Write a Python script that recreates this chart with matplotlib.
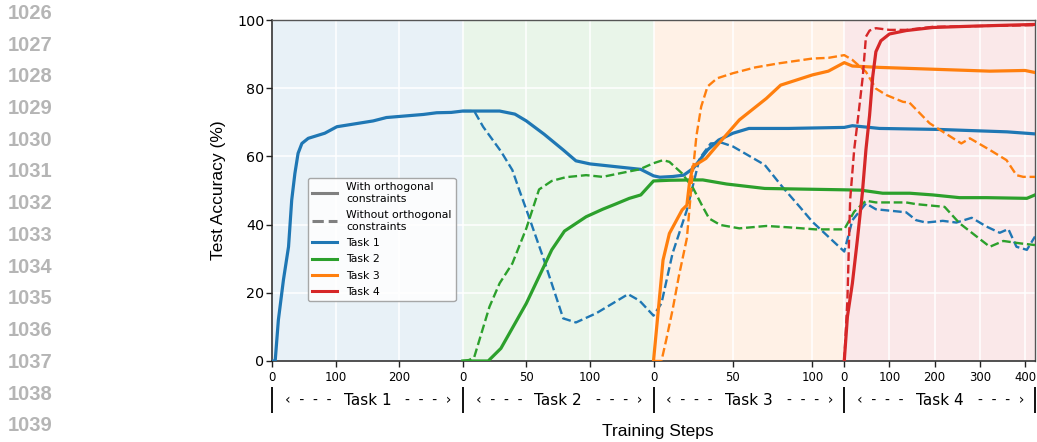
import matplotlib
matplotlib.use("Agg")
import matplotlib.pyplot as plt
import numpy as np
from matplotlib.lines import Line2D
from matplotlib.transforms import blended_transform_factory

# ---------------------------------------------------------------- data
TASK_NAMES = ["Task 1", "Task 2", "Task 3", "Task 4"]
TASK_COLORS = ["#1f77b4", "#2ca02c", "#ff7f0e", "#d62728"]
TASK_LENGTHS = [300, 150, 120, 422]          # training steps spent on each task
TASK_TICKS = [[0, 100, 200], [0, 50, 100], [0, 50, 100], [0, 100, 200, 300, 400]]

# Each curve: {training stage: (steps within that stage, accuracy %)}
task1_with = {
    0: ([0, 5, 10, 18, 26, 31, 36, 41, 47, 57, 83, 102, 159, 180, 238, 259, 282, 300],
        [0, 0, 12, 23.8, 33.5, 47.2, 55, 60.9, 63.8, 65.3, 66.8, 68.7, 70.4, 71.4, 72.3, 72.8, 72.9, 73.3]),
    1: ([0, 29, 41, 50, 64, 79, 89, 100, 120, 140, 150],
        [73.3, 73.3, 72.4, 70.4, 66.5, 61.9, 58.7, 57.8, 57, 56.2, 54.3]),
    2: ([0, 4, 12, 19, 25, 34, 41, 50, 60, 85, 120],
        [54.3, 53.9, 54.1, 54.5, 56.5, 61.9, 64.8, 66.8, 68.2, 68.2, 68.5]),
    3: ([0, 18, 78, 211, 360, 422],
        [68.5, 69, 68.2, 67.9, 67.2, 66.6]),
}
task1_without = {
    1: ([0, 9, 16, 30, 39, 44.5, 52, 63, 79, 89, 105, 130, 139, 150],
        [73.3, 73.3, 68.7, 61.5, 56, 50.1, 42.3, 30.6, 12.5, 11.3, 14, 19.6, 17.7, 13.3]),
    2: ([0, 5, 12, 21, 29, 36, 43, 50, 70, 81, 92, 100, 120],
        [13.3, 16.9, 31.6, 44.3, 59.4, 63.8, 64, 62.9, 57.5, 51.1, 45.2, 40.8, 32.1]),
    3: ([0, 18, 48, 70, 137, 159, 181, 218, 248, 282, 315, 344, 363, 381, 404, 422],
        [32.1, 41.3, 46.2, 44.5, 43.6, 41.3, 40.6, 41.1, 40.6, 42, 39.4, 37.6, 38.7, 33.5, 32.6, 36.5]),
}
task2_with = {
    1: ([0, 20, 30, 50, 70, 80, 97, 110, 120, 131, 140, 150],
        [0, 0, 3.7, 16.9, 32.6, 38.1, 42.3, 44.5, 46, 47.7, 48.7, 52.8]),
    2: ([0, 10, 25, 31, 46, 70, 120],
        [52.8, 53.0, 53.1, 53.1, 51.9, 50.6, 50.2]),
    3: ([0, 37, 85, 145, 196, 255, 315, 404, 422],
        [50.2, 50.1, 49.2, 49.2, 48.7, 47.9, 47.9, 47.7, 48.7]),
}
task2_without = {
    1: ([0, 5, 9, 21, 29, 39, 50, 60, 70, 81, 97, 110, 123, 139, 150],
        [0, 0.3, 1.1, 15.9, 22.8, 28.6, 38.9, 50.3, 52.8, 53.9, 54.5, 54, 55, 56.2, 58]),
    2: ([0, 6, 10, 18, 25, 31, 35, 42, 54, 71, 85, 102, 120],
        [58, 58.9, 58.4, 55, 50.6, 45.2, 41.8, 39.9, 38.9, 39.6, 39.2, 38.6, 38.6]),
    3: ([0, 22, 48, 70, 137, 159, 222, 255, 322, 352, 389, 422],
        [38.6, 43.8, 47, 46.5, 46.5, 46, 45.2, 40.4, 33.5, 35.2, 34.5, 34]),
}
task3_with = {
    2: ([0, 6, 10, 18, 21, 22.6, 24.7, 33, 39.4, 54, 71, 80, 100, 110, 120],
        [0, 29.6, 37.4, 44.3, 45.7, 52.1, 57, 59.4, 62.9, 70.7, 77, 80.9, 83.9, 85, 87.5]),
    3: ([0, 18, 78, 211, 322, 400, 422],
        [87.5, 86.5, 86.1, 85.5, 85, 85.2, 84.6]),
}
task3_without = {
    2: ([0, 5, 8, 12, 16, 21, 24, 27, 30, 34, 40, 50, 64, 79, 100, 110, 120],
        [0, 0, 6.2, 15, 25, 36, 52, 66, 74.6, 80.5, 82.9, 84.4, 86.1, 87.3, 88.7, 88.9, 89.7]),
    3: ([0, 18, 48, 70, 93, 130, 144, 189, 241, 259, 278, 322, 359, 381, 396, 422],
        [89.7, 88.3, 84.8, 79.9, 78, 76, 75.8, 69.7, 65.3, 63.8, 65.3, 61.9, 58.9, 54.5, 54, 54]),
}
task4_with = {
    3: ([0, 7, 18, 29, 40, 48, 56, 63, 70, 81, 100, 137, 196, 285, 422],
        [0, 13, 22.8, 35.5, 49.2, 62, 72, 83.4, 90.7, 93.9, 95.9, 96.9, 97.8, 98.2, 98.7]),
}
task4_without = {
    3: ([0, 7, 13, 22, 30, 41, 48, 56, 70, 100, 137, 196, 422],
        [0, 17.9, 47.2, 62, 70.7, 83.4, 95.1, 96.9, 97.6, 97.1, 97.1, 98, 98.5]),
}

CURVES = [
    (task1_with, task1_without),
    (task2_with, task2_without),
    (task3_with, task3_without),
    (task4_with, task4_without),
]


def to_axis(curve):
    """Map per-stage step counts onto a shared axis where each stage spans one unit."""
    xs, ys = [], []
    for stage in sorted(curve):
        steps, acc = curve[stage]
        xs.extend(stage + np.asarray(steps, float) / TASK_LENGTHS[stage])
        ys.extend(acc)
    return np.array(xs), np.array(ys)


# ---------------------------------------------------------------- figure
fig = plt.figure(figsize=(10.37, 4.42), dpi=100)
ax = fig.add_axes([272 / 1037, 1 - 361 / 442, 763 / 1037, 341 / 442])

n_stages = len(TASK_NAMES)
for i, c in enumerate(TASK_COLORS):
    ax.axvspan(i, i + 1, color=c, alpha=0.1, lw=0, zorder=0)

for color, (with_c, without_c) in zip(TASK_COLORS, CURVES):
    x, y = to_axis(with_c)
    ax.plot(x, y, color=color, lw=2.3, solid_joinstyle="round", zorder=3)
    x, y = to_axis(without_c)
    ax.plot(x, y, color=color, lw=1.7, ls="--", zorder=3)

ax.set_xlim(0, n_stages)
ax.set_ylim(0, 100)
ax.set_yticks([0, 20, 40, 60, 80, 100])

tick_pos, tick_lab = [], []
for stage, ticks in enumerate(TASK_TICKS):
    for t in ticks:
        tick_pos.append(stage + t / TASK_LENGTHS[stage])
        tick_lab.append(str(t))
ax.set_xticks(tick_pos)
ax.set_xticklabels(tick_lab)

ax.set_axisbelow(True)
ax.grid(True, color="white", lw=1.1)
ax.tick_params(axis="y", labelsize=10.3, length=4, width=1, pad=1.5, color="#222")
ax.tick_params(axis="x", labelsize=8.4, length=4, width=1, pad=3, color="#222")

for side in ("left", "bottom"):
    ax.spines[side].set_color("#222")
    ax.spines[side].set_linewidth(1.1)
for side in ("top", "right"):
    ax.spines[side].set_color("#555")
    ax.spines[side].set_linewidth(1.0)

ax.set_ylabel("Test Accuracy (%)", family="Liberation Sans", fontsize=12.5)
ax.yaxis.set_label_coords(-46 / 763, 0.5)
ax.text(0.506, -0.208, "Training Steps", transform=ax.transAxes,
        family="Liberation Sans", fontsize=12.5, ha="center", va="center")

# stage brackets under the axis
trans = blended_transform_factory(ax.transData, ax.transAxes)
for b in range(n_stages + 1):
    ax.plot([b, b], [-0.0754, -0.1516], transform=trans, color="#111",
            lw=1.4, clip_on=False, solid_capstyle="butt")
for i, name in enumerate(TASK_NAMES):
    ax.text(i + 0.068, -0.1144, "\u2039  -  -  -", transform=trans, ha="left",
            va="center", fontsize=10)
    ax.text(i + 0.5, -0.1144, name, transform=trans, ha="center",
            va="center", fontsize=11)
    ax.text(i + 1 - 0.058, -0.1144, "-  -  -  \u203a", transform=trans, ha="right",
            va="center", fontsize=10)

# legend: line style + task colour
handles = [
    Line2D([], [], color="gray", lw=2.2, label="With orthogonal\nconstraints"),
    Line2D([], [], color="gray", lw=2.2, ls="--", label="Without orthogonal\nconstraints"),
] + [Line2D([], [], color=c, lw=2.2, label=n) for c, n in zip(TASK_COLORS, TASK_NAMES)]
leg = ax.legend(handles=handles, loc="upper left", bbox_to_anchor=(36 / 763, 183 / 341),
                borderaxespad=0, fontsize=7.8, handlelength=2.3, labelspacing=0.58,
                framealpha=0.85, edgecolor="#999", fancybox=True)
leg.get_frame().set_linewidth(1.0)

# line numbers in the page margin
for k, num in enumerate(range(1026, 1040)):
    fig.text(8 / 1037, 1 - (13.3 + 31.73 * k) / 442, str(num), family="Liberation Sans",
             fontweight="bold", fontsize=14.5, color="#b5b5b5", va="center", ha="left")

fig.savefig("out.png", dpi=100)
